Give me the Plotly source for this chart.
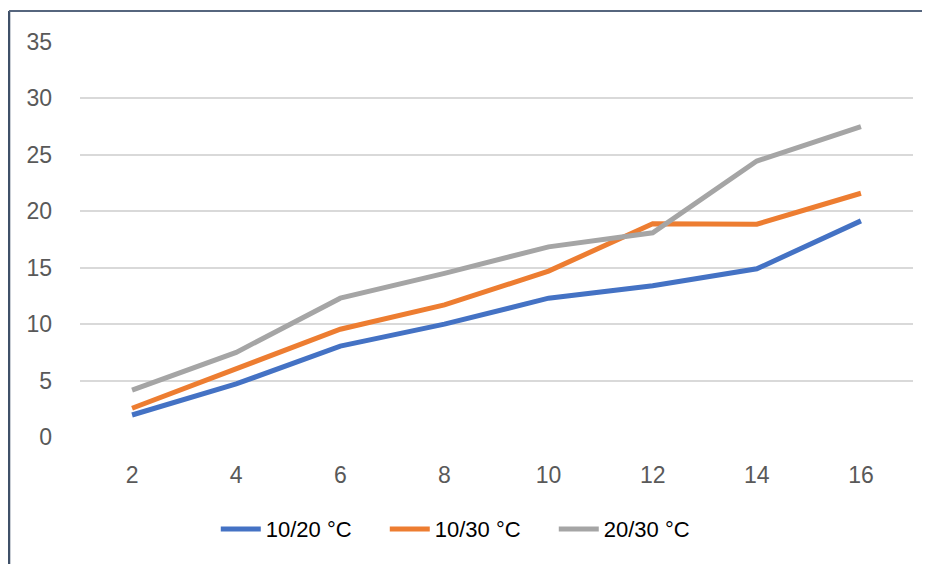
import plotly.graph_objects as go

# Dados
dias = [2, 4, 6, 8, 10, 12, 14, 16]
serie_10_20 = [1.95, 4.7, 8.05, 10.0, 12.3, 13.4, 14.9, 19.15]
serie_10_30 = [2.55, 6.0, 9.55, 11.7, 14.7, 18.9, 18.85, 21.6]
serie_20_30 = [4.15, 7.5, 12.3, 14.5, 16.85, 18.1, 24.45, 27.5]
nomes = ['10/20 °C', '10/30 °C', '20/30 °C']

CORES = ['#4472C4', '#ED7D31', '#A5A5A5']
FONTE = 'Liberation Sans'

fig = go.Figure()
for nome, valores, cor in zip(nomes, [serie_10_20, serie_10_30, serie_20_30], CORES):
    fig.add_trace(go.Scatter(
        x=dias, y=valores,
        mode='lines',
        name=nome,
        line=dict(color=cor, width=5),
    ))

# Moldura escura (cortada à direita e embaixo)
fig.add_shape(type='line', xref='paper', yref='paper',
              x0=-0.0852, x1=-0.0852, y0=1.0785, y1=-0.4,
              line=dict(color='#3F5068', width=2.5))
fig.add_shape(type='line', xref='paper', yref='paper',
              x0=-0.0852, x1=1.1, y0=1.0785, y1=1.0785,
              line=dict(color='#56667E', width=2))

fig.update_layout(
    width=922, height=556,
    margin=dict(l=72, r=17, t=34, b=127),
    paper_bgcolor='white',
    plot_bgcolor='white',
    font=dict(family=FONTE, size=23, color='#595959'),
    xaxis=dict(
        range=[1, 17],
        tickvals=dias,
        showgrid=False,
        zeroline=False,
        showline=False,
        ticklabelstandoff=22,
    ),
    yaxis=dict(
        range=[0, 35],
        dtick=5,
        showgrid=True,
        gridcolor='#D9D9D9',
        gridwidth=1.5,
        zeroline=False,
        showline=False,
        ticklabelstandoff=27,
    ),
    legend=dict(
        orientation='h',
        x=0.163, xanchor='left',
        y=-0.18, yanchor='top',
        font=dict(size=22, color='#000000'),
        itemwidth=40,
        entrywidth=114,
        entrywidthmode='pixels',
    ),
    showlegend=True,
)

fig.write_html("out.html")
